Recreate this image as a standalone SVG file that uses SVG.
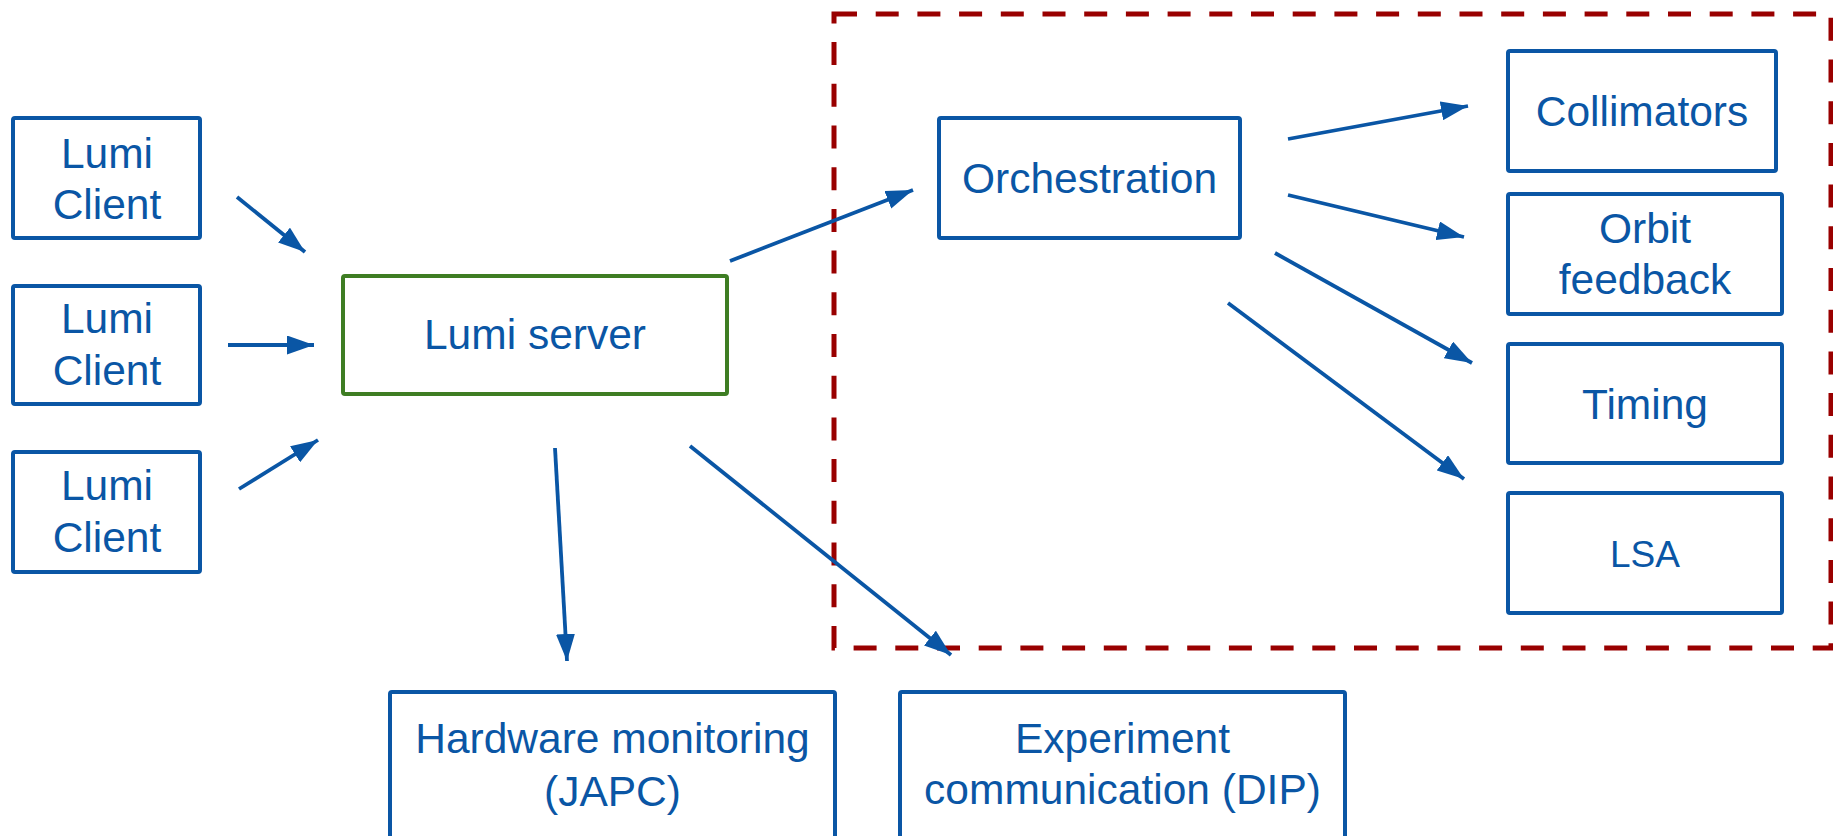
<svg xmlns="http://www.w3.org/2000/svg" width="1833" height="836" viewBox="0 0 1833 836">
  <style>
    .box { fill: #ffffff; stroke: #0a56a5; stroke-width: 4; }
    .server { fill: #ffffff; stroke: #3e7d23; stroke-width: 4; }
    .label { font-family: "Liberation Sans", Arial, sans-serif; font-size: 42.5px; fill: #0a56a5; text-anchor: middle; }
    .small { font-size: 37px; }
    .edge { stroke: #0a56a5; stroke-width: 3.8; fill: none; marker-end: url(#head); }
    .scope { fill: none; stroke: #990000; stroke-width: 5; stroke-dasharray: 23 18.7; }
  </style>
  <defs>
    <marker id="head" markerUnits="userSpaceOnUse" markerWidth="27" markerHeight="19" refX="27" refY="9.5" orient="auto">
      <path d="M0,0 L27,9.5 L0,19 Z" fill="#0a56a5"/>
    </marker>
  </defs>

  <rect id="white" x="0" y="0" width="1833" height="836" fill="#ffffff"/>

  <!-- dashed boundary around the orchestration subsystem -->
  <rect id="subsystem" class="scope" x="834" y="14" width="997" height="634"/>

  <!-- clients -->
  <g id="client1">
    <rect class="box" x="13" y="118" width="187" height="120" rx="2"/>
    <text class="label" x="107" y="168">Lumi</text>
    <text class="label" x="107" y="219">Client</text>
  </g>
  <g id="client2">
    <rect class="box" x="13" y="286" width="187" height="118" rx="2"/>
    <text class="label" x="107" y="333">Lumi</text>
    <text class="label" x="107" y="385">Client</text>
  </g>
  <g id="client3">
    <rect class="box" x="13" y="452" width="187" height="120" rx="2"/>
    <text class="label" x="107" y="500">Lumi</text>
    <text class="label" x="107" y="552">Client</text>
  </g>

  <!-- server -->
  <g id="server">
    <rect class="server" x="343" y="276" width="384" height="118" rx="2"/>
    <text class="label" x="535" y="349">Lumi server</text>
  </g>

  <!-- orchestration and controlled systems -->
  <g id="orchestration">
    <rect class="box" x="939" y="118" width="301" height="120" rx="2"/>
    <text class="label" x="1089.5" y="193">Orchestration</text>
  </g>
  <g id="collimators">
    <rect class="box" x="1508" y="51" width="268" height="120" rx="2"/>
    <text class="label" x="1642" y="126">Collimators</text>
  </g>
  <g id="orbit">
    <rect class="box" x="1508" y="194" width="274" height="120" rx="2"/>
    <text class="label" x="1645" y="243">Orbit</text>
    <text class="label" x="1645" y="294">feedback</text>
  </g>
  <g id="timing">
    <rect class="box" x="1508" y="344" width="274" height="119" rx="2"/>
    <text class="label" x="1645" y="419">Timing</text>
  </g>
  <g id="lsa">
    <rect class="box" x="1508" y="493" width="274" height="120" rx="2"/>
    <text class="label small" x="1645" y="567">LSA</text>
  </g>

  <!-- external services -->
  <g id="japc">
    <rect class="box" x="390" y="692" width="445" height="150" rx="2"/>
    <text class="label" x="612.5" y="753">Hardware monitoring</text>
    <text class="label" x="612.5" y="806">(JAPC)</text>
  </g>
  <g id="dip">
    <rect class="box" x="900" y="692" width="445" height="150" rx="2"/>
    <text class="label" x="1122.5" y="753">Experiment</text>
    <text class="label" x="1122.5" y="804">communication (DIP)</text>
  </g>

  <!-- connectors -->
  <g id="connectors">
    <line class="edge" x1="237" y1="197" x2="305" y2="252"/>
    <line class="edge" x1="228" y1="345" x2="314" y2="345"/>
    <line class="edge" x1="239" y1="489" x2="318" y2="440"/>
    <line class="edge" x1="730" y1="261" x2="913" y2="190"/>
    <line class="edge" x1="1288" y1="139" x2="1468" y2="106"/>
    <line class="edge" x1="1288" y1="195" x2="1464" y2="237"/>
    <line class="edge" x1="1275" y1="253" x2="1472" y2="363"/>
    <line class="edge" x1="1228" y1="303" x2="1464" y2="479"/>
    <line class="edge" x1="555" y1="448" x2="567" y2="661"/>
    <line class="edge" x1="690" y1="446" x2="951" y2="655"/>
  </g>
</svg>
